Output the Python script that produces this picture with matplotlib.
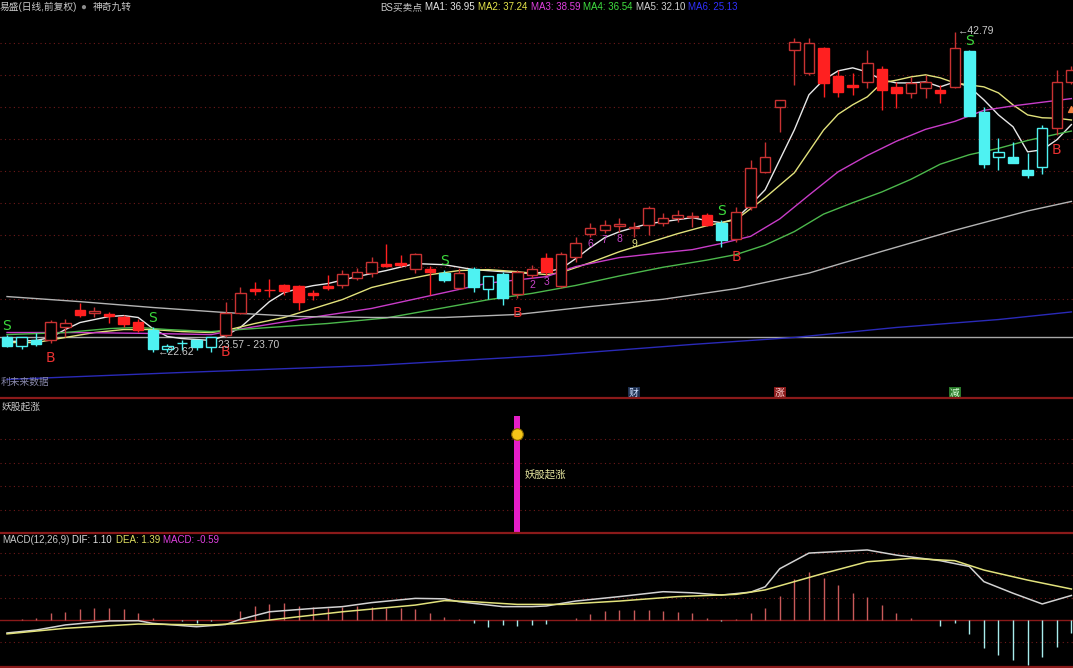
import numpy as np
import matplotlib.pyplot as plt
from matplotlib.lines import Line2D
from matplotlib.patches import Rectangle
import matplotlib.transforms as mtransforms

plt.rcParams['font.family'] = ['Liberation Sans', 'Noto Sans CJK SC', 'DejaVu Sans']

# ---- daily candles (price) ----
opens = [23.58, 23.01, 23.33, 23.33, 24.21, 25.28, 25.09, 25.03, 24.84, 24.52,
         24.02, 22.82, 23.14, 23.33, 22.89, 23.70, 25.09, 26.60, 26.54, 26.86,
         26.79, 26.35, 26.79, 26.86, 27.30, 27.61, 28.18, 28.24, 27.86, 27.86,
         27.61, 26.67, 27.86, 26.60, 27.55, 26.29, 27.48, 28.56, 26.79, 28.62,
         30.07, 30.32, 30.57, 30.45, 30.64, 30.76, 31.08, 31.14, 31.26, 30.76,
         29.75, 31.77, 33.97, 38.07, 41.66, 40.21, 41.79, 40.02, 39.45, 39.64,
         40.46, 39.33, 38.95, 39.27, 39.14, 39.33, 41.60, 37.75, 34.92, 34.92,
         34.10, 34.29, 36.74, 39.64]
highs = [23.70, 23.52, 23.83, 24.59, 24.71, 25.72, 25.41, 25.15, 24.96, 24.71,
         24.15, 23.08, 23.39, 23.39, 23.58, 25.78, 26.73, 27.04, 27.23, 26.92,
         26.86, 26.54, 27.48, 27.80, 27.93, 28.62, 29.44, 28.74, 28.87, 28.05,
         27.80, 27.93, 27.99, 27.42, 27.67, 27.80, 28.11, 28.87, 28.93, 29.88,
         30.76, 30.95, 31.08, 30.82, 31.83, 31.39, 31.58, 31.45, 31.39, 30.95,
         31.77, 34.73, 35.86, 38.51, 42.42, 42.42, 41.85, 40.40, 40.21, 41.66,
         40.65, 39.64, 39.96, 40.09, 39.45, 42.79, 41.66, 38.07, 36.12, 35.86,
         35.17, 36.93, 40.40, 40.65]
lows = [22.89, 22.76, 22.95, 23.20, 23.52, 24.84, 24.78, 24.46, 24.21, 23.89,
        22.62, 22.63, 22.70, 22.70, 22.63, 23.58, 25.03, 26.22, 26.10, 26.22,
        25.28, 25.91, 26.54, 26.67, 27.17, 27.36, 27.99, 27.99, 27.61, 26.22,
        27.04, 26.60, 26.41, 25.97, 25.59, 26.03, 27.30, 27.48, 26.67, 28.30,
        29.88, 30.13, 30.19, 29.88, 30.00, 30.57, 30.82, 30.51, 30.57, 29.25,
        29.56, 31.58, 33.91, 36.49, 39.45, 40.09, 38.70, 38.70, 38.83, 39.27,
        37.88, 38.01, 38.64, 38.64, 38.32, 39.27, 37.50, 34.23, 34.10, 34.54,
        33.60, 33.85, 36.30, 39.52]
closes = [23.01, 23.52, 23.08, 24.52, 24.46, 24.96, 25.22, 24.90, 24.40, 24.02,
          22.76, 22.95, 23.20, 22.89, 23.52, 25.09, 26.35, 26.48, 26.51, 26.48,
          25.78, 26.22, 26.67, 27.55, 27.67, 28.30, 28.05, 28.11, 28.81, 27.67,
          27.17, 27.61, 26.73, 27.42, 26.03, 27.67, 27.86, 27.67, 28.81, 29.50,
          30.45, 30.64, 30.70, 30.51, 31.71, 31.08, 31.26, 31.20, 30.64, 29.69,
          31.45, 34.23, 34.92, 38.51, 42.16, 42.10, 39.58, 39.01, 39.33, 40.84,
          39.14, 38.95, 39.58, 39.64, 38.95, 41.79, 37.50, 34.48, 35.23, 34.54,
          33.79, 36.74, 39.64, 40.40]
# BS indicator state per bar: 1 = buy side (red), 0 = sell side (cyan)
bs_trend = [0, 0, 0, 1, 1, 1, 1, 1, 1, 1,
            0, 0, 0, 0, 0, 1, 1, 1, 1, 1,
            1, 1, 1, 1, 1, 1, 1, 1, 1, 1,
            0, 1, 0, 0, 0, 1, 1, 1, 1, 1,
            1, 1, 1, 1, 1, 1, 1, 1, 1, 0,
            1, 1, 1, 1, 1, 1, 1, 1, 1, 1,
            1, 1, 1, 1, 1, 1, 0, 0, 0, 0,
            0, 0, 1, 1]
s_idx = [0, 10, 30, 49, 66]
b_idx = [3, 15, 35, 50, 72]
td_idx = [36, 37, 40, 41, 42, 43]
td_txt = ['2', '3', '6', '7', '8', '9']
flag_idx = [43, 53, 65]
flag_txt = ['财', '涨', '减']
ref_level = 23.57
tri_idx = [73]
tri_val = [37.94]

# ---- moving averages (bar index, value) ----
ma1_idx = [0, 2, 3, 4, 5, 6, 7, 8, 9, 10, 11, 12, 13, 14, 15, 16, 17, 18, 19, 20,
           21, 22, 24, 26, 28, 30, 32, 34, 36] + list(range(37, 74))
ma1_val = [23.26, 23.33, 23.52, 24.02, 24.46, 24.65, 24.84, 24.90, 24.78, 24.08,
           23.58, 23.45, 23.39, 23.33, 23.64, 24.15, 24.96, 25.78, 26.35, 26.60,
           26.79, 26.92, 27.36, 27.74, 28.18, 28.11, 27.80, 27.67, 27.55,
           27.67, 27.86, 28.49, 29.19, 29.82, 30.19, 30.45, 30.70, 30.82, 30.95,
           31.08, 30.89, 30.76, 31.01, 31.89, 32.84, 34.73, 36.62, 38.83, 39.77,
           40.34, 40.53, 40.27, 39.77, 39.58, 39.58, 39.64, 39.33, 39.64, 39.33,
           38.51, 37.56, 36.81, 35.23, 35.36, 35.99, 36.95]
ma2_idx = [0, 2, 4, 6, 8, 10, 12, 14, 15, 17, 19, 21, 23, 25, 27, 29, 31, 33, 35, 37,
           38, 40, 42, 44, 46, 48, 49, 50, 52, 54, 56] + list(range(57, 74))
ma2_val = [23.20, 23.20, 23.52, 23.83, 24.02, 24.02, 23.89, 23.83, 23.96, 24.40,
           24.78, 25.34, 25.91, 26.67, 27.11, 27.48, 27.74, 27.80, 27.67, 27.48,
           27.61, 28.24, 28.93, 29.50, 30.07, 30.57, 30.76, 30.95, 32.34, 33.91, 36.60,
           37.60, 38.20, 38.70, 39.58, 39.75, 39.96, 40.09, 39.90, 39.58, 39.45,
           39.33, 38.95, 38.19, 37.56, 37.38, 37.35, 37.24]
ma3_idx = [0, 5, 10, 14, 16, 18, 21, 25, 28, 31, 33, 35, 37, 39, 42, 45, 47, 49, 51,
           53, 55, 57, 59, 61, 63, 65, 67, 69, 71, 73]
ma3_val = [23.83, 23.83, 23.77, 23.70, 24.05, 24.35, 24.80, 25.35, 25.95, 26.55,
           26.95, 27.15, 27.36, 27.99, 28.56, 28.87, 29.06, 29.45, 29.90, 31.00,
           32.50, 33.97, 35.00, 35.90, 36.65, 37.15, 37.85, 38.13, 38.36, 38.59]
ma4_idx = [0, 4, 7, 9, 11, 14, 18, 22, 26, 30, 33, 36, 39, 42, 45, 48, 50, 52, 54,
           56, 58, 60, 62, 64, 66, 68, 70, 72, 73]
ma4_val = [23.70, 23.83, 24.08, 24.15, 24.02, 23.89, 24.15, 24.40, 24.75, 25.40,
           25.90, 26.30, 26.80, 27.40, 27.95, 28.40, 28.75, 29.35, 30.20, 31.30,
           32.02, 32.70, 33.50, 34.45, 35.05, 35.45, 35.95, 36.35, 36.54]
ma5_idx = [0, 5, 10, 15, 20, 25, 30, 35, 40, 45, 50, 55, 60, 65, 70, 73]
ma5_val = [26.10, 25.78, 25.41, 25.09, 24.84, 24.78, 24.78, 24.97, 25.47, 25.93,
           26.60, 27.58, 28.95, 30.28, 31.50, 32.10]
ma6_idx = [0, 12, 25, 37, 47, 54, 61, 68, 73]
ma6_val = [20.87, 21.31, 21.75, 22.38, 23.08, 23.52, 24.15, 24.65, 25.13]

# ---- 妖股起涨 signal ----
yao_idx = [35]
yao_val = [1.0]

# ---- MACD ----
macd_hist = [0.02, 0.06, 0.09, 0.33, 0.37, 0.49, 0.52, 0.55, 0.48, 0.33,
             0.08, -0.02, -0.04, -0.12, -0.06, 0.02, 0.42, 0.64, 0.72, 0.75,
             0.63, 0.60, 0.55, 0.60, 0.64, 0.60, 0.55, 0.52, 0.48, 0.33,
             0.12, 0.03, -0.12, -0.33, -0.22, -0.27, -0.22, -0.18, -0.02, 0.08,
             0.27, 0.40, 0.45, 0.45, 0.45, 0.42, 0.37, 0.30, 0.10, -0.06,
             0.03, 0.33, 0.52, 1.08, 1.82, 2.17, 1.87, 1.57, 1.22, 1.05,
             0.67, 0.33, 0.08, 0.01, -0.27, -0.15, -0.63, -1.27, -1.57, -1.79,
             -2.02, -1.67, -1.20, -0.59]
dif_idx = [0, 2, 4, 7, 9, 10, 13, 15, 16, 18, 21, 23, 25, 28, 30, 31, 34, 36, 37, 39,
           42, 45, 47, 49, 51, 52, 53, 55, 59, 61, 64, 66, 67, 69, 71, 73]
dif_val = [-0.58, -0.45, -0.22, -0.04, -0.03, -0.15, -0.30, -0.20, 0.03, 0.37,
           0.52, 0.60, 0.78, 0.97, 0.95, 0.82, 0.60, 0.60, 0.63, 0.85,
           1.05, 1.27, 1.22, 1.12, 1.25, 1.49, 2.30, 3.00, 3.14, 2.91,
           2.66, 2.40, 1.72, 1.20, 0.72, 1.10]
dea_idx = [0, 4, 9, 14, 16, 18, 23, 28, 30, 32, 35, 38, 42, 46, 50, 52, 56, 59, 62,
           65, 67, 70, 73]
dea_val = [-0.62, -0.37, -0.18, -0.22, -0.15, 0.00, 0.37, 0.67, 0.87, 0.82,
           0.70, 0.70, 0.85, 1.05, 1.15, 1.35, 2.09, 2.61, 2.76, 2.66,
           2.24, 1.79, 1.39]

W, H = 1073, 668
BG = 'black'
GRID = '#6e1a1a'
SEP = '#8b1a1a'
RED_EDGE = '#c83232'
RED_FILL = '#ff2020'
CYAN = '#4ef2f2'

fig = plt.figure(figsize=(W / 100, H / 100), dpi=100, facecolor=BG)


def px_axes(top, bottom):
    return fig.add_axes([0, 1 - bottom / H, 1, (bottom - top) / H])


def ftxt(x, y, s, color, size=7, **kw):
    fig.text(x / W, 1 - y / H, s, color=color, fontsize=size, va='center', ha='left', **kw)


ax1 = px_axes(0, 398)
ax2 = px_axes(398, 533)
ax3 = px_axes(533, 668)
for ax in (ax1, ax2, ax3):
    ax.set_facecolor(BG)
    ax.set_xlim(-0.48, 73.11)
    ax.set_xticks([])
    ax.set_yticks([])
    for s in ax.spines.values():
        s.set_visible(False)

ax1.set_ylim(19.70, 44.81)
ax2.set_ylim(0, 1.154)
ax3.set_ylim(-2.15, 3.90)

dots = (0, (1, 3))
for lev in 42.10 - 2.016 * np.arange(9):
    ax1.axhline(lev, color=GRID, ls=dots, lw=0.8, zorder=1)
for lev in [0.2, 0.4, 0.6, 0.8]:
    ax2.axhline(lev, color=GRID, ls=dots, lw=0.8, zorder=1)
for lev in [-1, 1, 2, 3]:
    ax3.axhline(lev, color=GRID, ls=dots, lw=0.8, zorder=1)
ax3.axhline(0, color=SEP, lw=1, zorder=1)

# panel separators
for y in (398, 533, 666.5):
    fig.add_artist(Line2D([0, 1], [1 - y / H, 1 - y / H], color=SEP, lw=1.6))

# ---- main panel ----
ax1.axhline(ref_level, color='#a8a8a8', lw=1, zorder=2)

ma_style = [(ma1_idx, ma1_val, '#e8e8e8'), (ma2_idx, ma2_val, '#e2e27c'),
            (ma3_idx, ma3_val, '#c83cc8'), (ma4_idx, ma4_val, '#4cb84c'),
            (ma5_idx, ma5_val, '#b4b4b4'), (ma6_idx, ma6_val, '#2a2ab8')]
for xs, ys, col in ma_style:
    ax1.plot(xs, ys, color=col, lw=1, zorder=2)

for i, (o, h, l, c, up) in enumerate(zip(opens, highs, lows, closes, bs_trend)):
    lo, hi = min(o, c), max(o, c)
    filled = c < o
    if up:
        edge = RED_FILL if filled else RED_EDGE
    else:
        edge = CYAN
    face = edge if filled else BG
    ax1.vlines(i, l, lo, color=edge, lw=1, zorder=3)
    ax1.vlines(i, hi, h, color=edge, lw=1, zorder=3)
    ax1.add_patch(Rectangle((i - 0.36, lo), 0.72, max(hi - lo, 0.01),
                            facecolor=face, edgecolor=edge, lw=1, zorder=4))

for i in s_idx:
    ax1.annotate('S', (i, highs[i]), xytext=(0, 2), textcoords='offset pixels',
                 ha='center', va='bottom', color='#3cd83c', fontsize=10,
                 family='DejaVu Sans', zorder=6)
for i in b_idx:
    ax1.annotate('B', (i, lows[i]), xytext=(0, -8), textcoords='offset pixels',
                 ha='center', va='top', color='#e83030', fontsize=10,
                 family='DejaVu Sans', zorder=6)
for i, t in zip(td_idx, td_txt):
    ax1.annotate(t, (i, lows[i]), xytext=(0, -2), textcoords='offset pixels',
                 ha='center', va='top', fontsize=7.5, zorder=6,
                 color='#e0e080' if t == '9' else '#c844c8')

lo_i = int(np.argmin(lows))
hi_i = int(np.argmax(highs))
ax1.annotate(f'←{lows[lo_i]:.2f}', (lo_i, lows[lo_i]), xytext=(5, 0),
             textcoords='offset pixels', ha='left', va='center',
             color='#c8c8c8', fontsize=7.5, zorder=6)
ax1.annotate(f'←{highs[hi_i]:.2f}', (hi_i, highs[hi_i]), xytext=(3, 1),
             textcoords='offset pixels', ha='left', va='center',
             color='#c8c8c8', fontsize=7.5, zorder=6)
ax1.annotate('23.57 - 23.70', (14.5, ref_level), xytext=(0, -8),
             textcoords='offset pixels', ha='left', va='center',
             color='#c8c8c8', fontsize=7.5, zorder=6)
ax1.scatter(tri_idx, tri_val, marker='^', s=18, color='#f08040', zorder=6)

for i, t, (fg, bg) in zip(flag_idx, flag_txt,
                          [('#d0e0ff', '#1e3050'), ('#ffd8d8', '#8a1a1a'),
                           ('#d8ffd8', '#2a7a2a')]):
    ax1.annotate(t, (i, 0), xycoords=('data', 'axes fraction'), xytext=(0, 5),
                 textcoords='offset pixels', ha='center', va='center',
                 color=fg, fontsize=7,
                 bbox=dict(boxstyle='square,pad=0.1', fc=bg, ec='none'))
ax1.text(0.001, 0.04, '利未来数据', transform=ax1.transAxes,
         color='#8888aa', fontsize=7, va='center', ha='left')

# ---- 妖股起涨 panel ----
ax2.bar(yao_idx, yao_val, width=0.42, color='#e61ec8', zorder=3)
dot_tr = mtransforms.offset_copy(ax2.transData, fig=fig, y=-18, units='dots')
ax2.scatter(yao_idx, yao_val, s=70, color='#f5c518', edgecolors='#8a6a00',
            lw=0.8, transform=dot_tr, zorder=4)
for i, v in zip(yao_idx, yao_val):
    ax2.annotate('妖股起涨', (i, v), xytext=(7, -58), textcoords='offset pixels',
                 ha='left', va='center', color='#e6e6a0', fontsize=7.5)

# ---- MACD panel ----
for i, v in enumerate(macd_hist):
    ax3.vlines(i, 0, v, color='#c85a5a' if v >= 0 else '#a8ecec', lw=1, zorder=2)
ax3.plot(dif_idx, dif_val, color='#d2d2d2', lw=1.1, zorder=3)
ax3.plot(dea_idx, dea_val, color='#e2e27c', lw=1.1, zorder=3)

# ---- header texts ----
ftxt(0, 7, '易盛(日线,前复权)', '#c8c8c8')
ftxt(80, 7, '●', '#8c8c8c', size=7)
ftxt(93, 7, '神奇九转', '#c8c8c8')
ftxt(380, 7, 'BS买卖点', '#c8c8c8')
hdr = [(425, 'MA1', ma1_val, '#e6e6e6'), (478, 'MA2', ma2_val, '#e6e64a'),
       (531, 'MA3', ma3_val, '#e040e0'), (583, 'MA4', ma4_val, '#40e040'),
       (636, 'MA5', ma5_val, '#d0d0d0'), (688, 'MA6', ma6_val, '#3030ff')]
for x, name, vals, col in hdr:
    ftxt(x, 7, f'{name}: {vals[-1]:.2f}', col)

ftxt(2, 407, '妖股起涨', '#c8c8c8')

ftxt(2, 540, 'MACD(12,26,9)', '#c8c8c8')
ftxt(72, 540, f'DIF: {dif_val[-1]:.2f}', '#e0e0e0')
ftxt(116, 540, f'DEA: {dea_val[-1]:.2f}', '#e0e060')
ftxt(163, 540, f'MACD: {macd_hist[-1]:.2f}', '#e040e0')

fig.savefig('out.png', dpi=100, facecolor=BG)
